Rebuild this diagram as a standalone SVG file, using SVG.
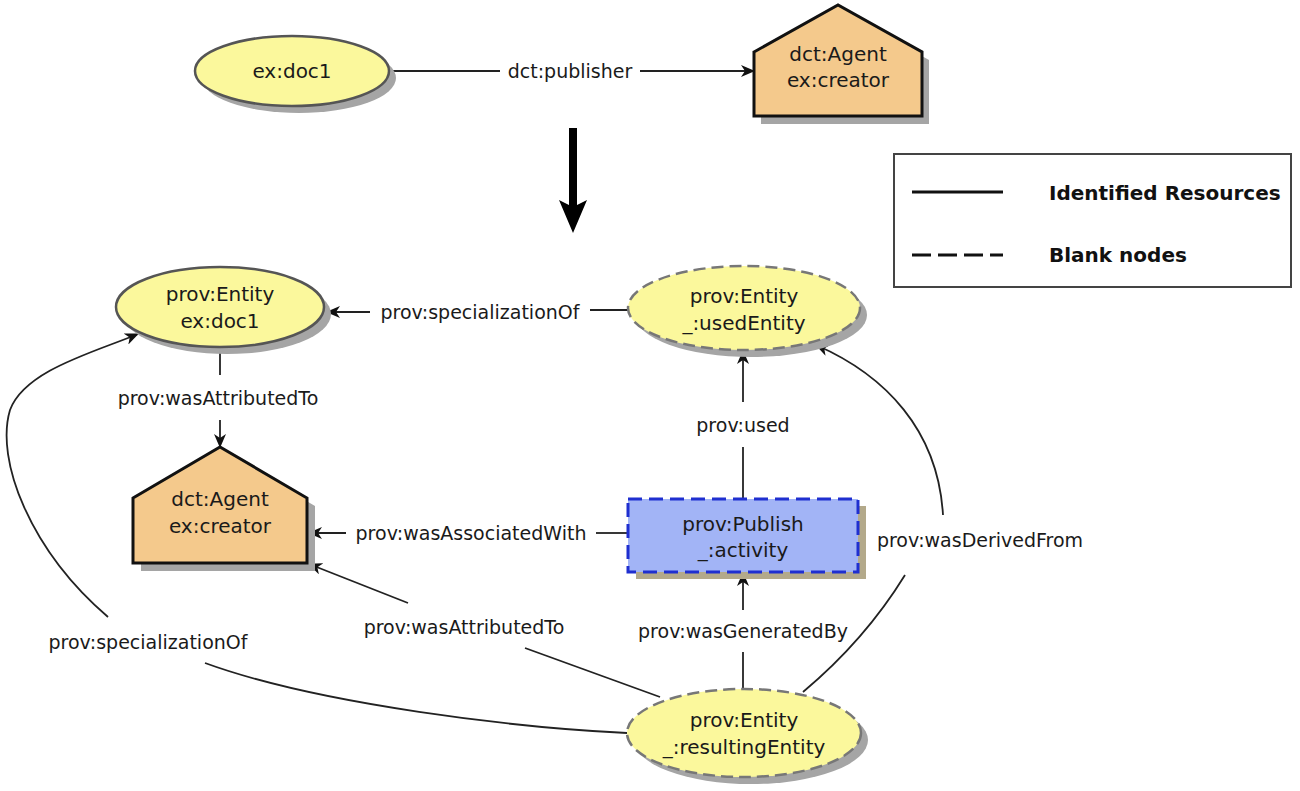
<svg xmlns="http://www.w3.org/2000/svg" width="1300" height="791" viewBox="0 0 1300 791">
<style>
.nl{font-family:"DejaVu Sans","Liberation Sans",sans-serif;font-size:20px;fill:#1a1a1a;text-anchor:middle;dominant-baseline:central}
.el{font-family:"DejaVu Sans","Liberation Sans",sans-serif;font-size:19px;fill:#1a1a1a;text-anchor:middle;dominant-baseline:central}
.lg{font-family:"DejaVu Sans","Liberation Sans",sans-serif;font-size:20px;font-weight:bold;fill:#111;dominant-baseline:central}
.shadow{fill:#a5a5a5;stroke:none}
.ent{fill:#fbf89c;stroke:#555;stroke-width:2.5}
.blank{fill:#fbf89c;stroke:#777;stroke-width:2.5;stroke-dasharray:12 6}
.agent{fill:#f4c98c;stroke:#111;stroke-width:3}
.act{fill:#a2b4f6;stroke:#1f2fd0;stroke-width:3;stroke-dasharray:14 7}
.edge{fill:none;stroke:#222;stroke-width:1.8}
</style>
<defs>
<marker id="ah" viewBox="0 0 14 12" refX="13" refY="6" markerWidth="14" markerHeight="12" markerUnits="userSpaceOnUse" orient="auto">
<path d="M0,0 L14,6 L0,12 L4,6 z" fill="#111"/>
</marker>
</defs>
<rect width="1300" height="791" fill="#fff"/>

<g id="legend">
<rect x="894" y="154" width="397" height="133" fill="#fff" stroke="#444" stroke-width="2"/>
<line x1="912" y1="192" x2="1003" y2="192" stroke="#111" stroke-width="3"/>
<text x="1049" y="193" class="lg">Identified Resources</text>
<line x1="912" y1="255" x2="1003" y2="255" stroke="#111" stroke-width="3" stroke-dasharray="19 7"/>
<text x="1049" y="255" class="lg">Blank nodes</text>
</g>

<g id="transform-arrow">
<line x1="573" y1="128" x2="573" y2="208" stroke="#000" stroke-width="8"/>
<polygon points="559,200 573,207 587,200 573,233" fill="#000"/>
</g>

<g id="connectors">
<path class="edge" d="M390,71 H500"/>
<path class="edge" d="M640,71 H754" marker-end="url(#ah)"/>
<path class="edge" d="M628,310 H590"/>
<path class="edge" d="M370,312 H327" marker-end="url(#ah)"/>
<path class="edge" d="M220,348 V375"/>
<path class="edge" d="M220,420 V447" marker-end="url(#ah)"/>
<path class="edge" d="M743,499 V447"/>
<path class="edge" d="M743,402 V351" marker-end="url(#ah)"/>
<path class="edge" d="M628,533 H596"/>
<path class="edge" d="M346,533 H309" marker-end="url(#ah)"/>
<path class="edge" d="M743,689 V652"/>
<path class="edge" d="M743,610 V573" marker-end="url(#ah)"/>
<path class="edge" d="M660,697 L525,648"/>
<path class="edge" d="M408,603 L309,564" marker-end="url(#ah)"/>
<path class="edge" d="M627,733 C520,728 320,705 205,663"/>
<path class="edge" d="M108,617 C30,550 -5,460 10,410 C25,370 95,352 138,334" marker-end="url(#ah)"/>
<path class="edge" d="M803,692 Q865,640 905,575"/>
<path class="edge" d="M943,515 C938,430 885,375 816,345" marker-end="url(#ah)"/>
<text x="570" y="71" class="el">dct:publisher</text>
<text x="480" y="312" class="el">prov:specializationOf</text>
<text x="218" y="398" class="el">prov:wasAttributedTo</text>
<text x="743" y="425" class="el">prov:used</text>
<text x="471" y="533" class="el">prov:wasAssociatedWith</text>
<text x="980" y="540" class="el">prov:wasDerivedFrom</text>
<text x="743" y="631" class="el">prov:wasGeneratedBy</text>
<text x="464" y="627" class="el">prov:wasAttributedTo</text>
<text x="148" y="642" class="el">prov:specializationOf</text>
</g>

<g id="n-doc1">
<ellipse cx="299" cy="78" rx="97" ry="35" class="shadow"/>
<ellipse cx="292" cy="71" rx="97" ry="35" class="ent"/>
<text x="292" y="71" class="nl">ex:doc1</text>
</g>

<g id="n-creator-top">
<polygon points="761,60 845,13 929,60 929,124 761,124" class="shadow"/>
<polygon points="754,52 838,5 922,52 922,116 754,116" class="agent"/>
<text x="838" y="54" class="nl">dct:Agent</text>
<text x="838" y="80" class="nl">ex:creator</text>
</g>

<g id="n-entity-doc1">
<ellipse cx="227" cy="314" rx="104" ry="40" class="shadow"/>
<ellipse cx="220" cy="307" rx="104" ry="40" class="ent"/>
<text x="220" y="294" class="nl">prov:Entity</text>
<text x="220" y="321" class="nl">ex:doc1</text>
</g>

<g id="n-usedEntity">
<ellipse cx="751" cy="315" rx="116" ry="42" class="shadow"/>
<ellipse cx="744" cy="308" rx="116" ry="42" class="blank"/>
<text x="744" y="296" class="nl">prov:Entity</text>
<text x="744" y="323" class="nl">_:usedEntity</text>
</g>

<g id="n-creator">
<polygon points="141,506 228,455 315,506 315,571 141,571" class="shadow"/>
<polygon points="133,498 220,447 307,498 307,563 133,563" class="agent"/>
<text x="220" y="499" class="nl">dct:Agent</text>
<text x="220" y="526" class="nl">ex:creator</text>
</g>

<g id="n-activity">
<rect x="636" y="506" width="230" height="73" fill="#b3a98a"/>
<rect x="628" y="499" width="230" height="73" class="act"/>
<text x="743" y="524" class="nl">prov:Publish</text>
<text x="743" y="550" class="nl">_:activity</text>
</g>

<g id="n-resultingEntity">
<ellipse cx="751" cy="740" rx="117" ry="44" class="shadow"/>
<ellipse cx="744" cy="733" rx="117" ry="44" class="blank"/>
<text x="744" y="720" class="nl">prov:Entity</text>
<text x="744" y="747" class="nl">_:resultingEntity</text>
</g>
</svg>
